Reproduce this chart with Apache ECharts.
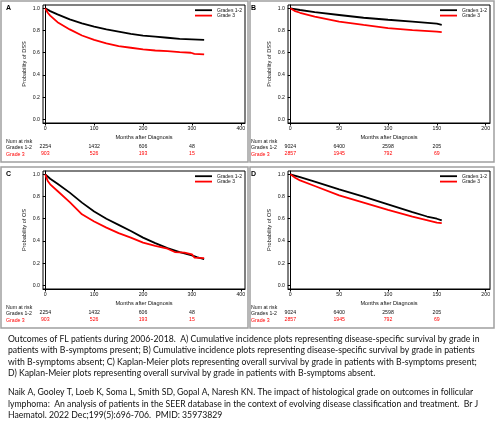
<!DOCTYPE html>
<html><head><meta charset="utf-8">
<script src="https://cdn.jsdelivr.net/npm/echarts@6/dist/echarts.min.js"></script>
<style>html,body{margin:0;padding:0;background:#fff}#c{width:500px;height:424px}</style>
</head><body><div id="c"></div>
<script>
// ---------------- data ----------------
const seriesNames = ['Grades 1-2', 'Grade 3'];
const yTicks = [0, 0.2, 0.4, 0.6, 0.8, 1.0];
const xTicksLong = [0, 100, 200, 300, 400];
const xTicksShort = [0, 50, 100, 150, 200];

// A: DSS, B-symptoms present
const dssPresentG12 = [[0,1.0],[10,0.975],[25,0.945],[50,0.90],[75,0.865],[100,0.835],[125,0.81],[150,0.79],[175,0.77],[200,0.755],[225,0.745],[250,0.735],[275,0.725],[300,0.72],[325,0.715]];
const dssPresentG3 = [[0,1.0],[5,0.96],[10,0.935],[25,0.875],[50,0.81],[75,0.755],[100,0.715],[125,0.685],[150,0.66],[175,0.645],[200,0.63],[225,0.62],[250,0.615],[275,0.605],[298,0.60],[305,0.59],[325,0.585]];
// B: DSS, B-symptoms absent
const dssAbsentG12 = [[0,1.0],[10,0.985],[25,0.965],[50,0.94],[75,0.915],[100,0.897],[125,0.88],[150,0.862],[155,0.852]];
const dssAbsentG3 = [[0,1.0],[5,0.975],[10,0.96],[25,0.925],[50,0.88],[75,0.85],[100,0.822],[125,0.803],[150,0.79],[155,0.786]];
// C: OS, B-symptoms present
const osPresentG12 = [[0,1.0],[10,0.96],[25,0.915],[50,0.835],[75,0.745],[100,0.665],[125,0.60],[150,0.545],[175,0.49],[200,0.43],[225,0.38],[250,0.335],[275,0.30],[300,0.27],[310,0.255],[325,0.235]];
const osPresentG3 = [[0,1.0],[5,0.94],[10,0.91],[25,0.85],[50,0.75],[75,0.64],[100,0.575],[125,0.52],[150,0.47],[175,0.43],[200,0.385],[225,0.355],[250,0.33],[265,0.30],[285,0.295],[300,0.28],[305,0.25],[325,0.245]];
// D: OS, B-symptoms absent
const osAbsentG12 = [[0,1.0],[10,0.975],[25,0.935],[50,0.865],[75,0.80],[100,0.73],[125,0.66],[140,0.62],[150,0.60],[155,0.585]];
const osAbsentG3 = [[0,1.0],[5,0.97],[10,0.945],[25,0.895],[50,0.81],[75,0.745],[100,0.68],[125,0.62],[150,0.565],[155,0.56]];

// numbers at risk
const riskTimesLong = [0, 100, 200, 300];
const riskTimesShort = [0, 50, 100, 150];
const riskPresentG12 = [2254, 1432, 606, 48];
const riskPresentG3 = [903, 526, 193, 15];
const riskAbsentG12 = [9024, 6400, 2598, 205];
const riskAbsentG3 = [2857, 1945, 792, 69];

const captionLines = [
  'Outcomes of FL patients during 2006-2018.  A) Cumulative incidence plots representing disease-specific survival by grade in',
  'patients with B-symptoms present; B) Cumulative incidence plots representing disease-specific survival by grade in patients',
  'with B-symptoms absent; C) Kaplan-Meier plots representing overall survival by grade in patients with B-symptoms present;',
  'D) Kaplan-Meier plots representing overall survival by grade in patients with B-symptoms absent.',
  '',
  'Naik A, Gooley T, Loeb K, Soma L, Smith SD, Gopal A, Naresh KN. The impact of histological grade on outcomes in follicular',
  'lymphoma:  An analysis of patients in the SEER database in the context of evolving disease classification and treatment.  Br J',
  'Haematol. 2022 Dec;199(5):696-706.  PMID: 35973829'
];

// ---------------- layout ----------------
const FONT = '"Liberation Sans", Arial, sans-serif';
const CAPFONT = 'Lato, "Open Sans", sans-serif';
const panels = [
  {letter:'A', ox:0,   oy:0,   xMin:-4.7, xMax:408.6, xTicks:xTicksLong,  yName:'Probability of DSS', g12:dssPresentG12, g3:dssPresentG3, rt:riskTimesLong,  r12:riskPresentG12, r3:riskPresentG3},
  {letter:'B', ox:245, oy:0,   xMin:-2.35,xMax:204.4, xTicks:xTicksShort, yName:'Probability of DSS', g12:dssAbsentG12,  g3:dssAbsentG3,  rt:riskTimesShort, r12:riskAbsentG12,  r3:riskAbsentG3},
  {letter:'C', ox:0,   oy:166, xMin:-4.7, xMax:408.6, xTicks:xTicksLong,  yName:'Probability of OS',  g12:osPresentG12,  g3:osPresentG3,  rt:riskTimesLong,  r12:riskPresentG12, r3:riskPresentG3},
  {letter:'D', ox:245, oy:166, xMin:-2.35,xMax:204.4, xTicks:xTicksShort, yName:'Probability of OS',  g12:osAbsentG12,   g3:osAbsentG3,   rt:riskTimesShort, r12:riskAbsentG12,  r3:riskAbsentG3}
];

const grid = [], xAxis = [], yAxis = [], series = [], legend = [], graphic = [];
const fs = 5.2;
panels.forEach((p, i) => {
  grid.push({left: 43 + p.ox, top: 5 + p.oy, width: 202, height: 118, show: true, borderColor: '#000', borderWidth: 1, backgroundColor: 'transparent'});
  // main x axis
  xAxis.push({
    type: 'value', gridIndex: i, min: p.xMin, max: p.xMax, position: 'bottom',
    axisLine: {onZero: false, lineStyle: {color: '#000', width: 1}},
    axisTick: {customValues: p.xTicks, length: 2.5, lineStyle: {color: '#000'}},
    axisLabel: {customValues: p.xTicks, fontSize: fs, color: '#111', fontFamily: FONT, margin: 3},
    splitLine: {show: false},
    name: 'Months after Diagnosis', nameLocation: 'middle', nameGap: 11,
    nameTextStyle: {fontSize: 5.6, color: '#111', fontFamily: FONT}
  });
  // at-risk rows as extra axes sharing the grid scale
  [[p.r12, '#111', 21], [p.r3, '#ff0000', 27.6]].forEach(([arr, col, off]) => {
    xAxis.push({
      type: 'value', gridIndex: i, min: p.xMin, max: p.xMax, position: 'bottom', offset: off,
      axisLine: {show: false}, axisTick: {show: false}, splitLine: {show: false},
      axisLabel: {customValues: p.rt, fontSize: fs, color: col, fontFamily: FONT, margin: 0,
        formatter: v => String(arr[p.rt.indexOf(v)])}
    });
  });
  yAxis.push({
    type: 'value', gridIndex: i, min: -0.033, max: 1.03,
    axisLine: {show: true, lineStyle: {color: '#000', width: 1}},
    axisTick: {customValues: yTicks, length: 2.5, lineStyle: {color: '#000'}},
    axisLabel: {customValues: yTicks, fontSize: fs, color: '#111', fontFamily: FONT, margin: 3, formatter: v => v.toFixed(1)},
    splitLine: {show: false},
    name: p.yName, nameLocation: 'middle', nameGap: 16, nameRotate: 90,
    nameTextStyle: {fontSize: 5.6, color: '#111', fontFamily: FONT}
  });
  const xi = i * 3;
  [[p.g12, '#000000', seriesNames[0]], [p.g3, '#ff0000', seriesNames[1]]].forEach(([d, col, nm]) => {
    series.push({type: 'line', name: nm, xAxisIndex: xi, yAxisIndex: i, data: d, showSymbol: false, symbol: 'none',
      lineStyle: {color: col, width: 1.8}, itemStyle: {color: col}, animation: false, silent: true});
  });
  legend.push({left: 195 + p.ox, top: 7.5 + p.oy, padding: 0, orient: 'vertical', icon: 'rect', itemWidth: 17, itemHeight: 1.8, itemGap: 0,
    selectedMode: false, data: seriesNames, textStyle: {fontSize: 5, lineHeight: 5.4, color: '#111', fontFamily: FONT}});
  // panel frame
  graphic.push({type: 'rect', shape: {x: 1 + (p.ox ? 249 : 0), y: 1 + p.oy, width: p.ox ? 244 : 247, height: 161}, style: {fill: 'none', stroke: '#a0a0a0', lineWidth: 1.5}, silent: true});
  graphic.push({type: 'text', x: 6 + p.ox, y: 8 + p.oy, style: {text: p.letter, font: 'bold 7px ' + FONT, fill: '#000', verticalAlign: 'middle'}});
  [['Num at risk', '#111', 141.7], ['Grades 1-2', '#111', 147.7], ['Grade 3', '#ff0000', 154.3]].forEach(([t, c, y]) => {
    graphic.push({type: 'text', x: 6 + p.ox, y: y + p.oy, style: {text: t, font: fs + 'px ' + FONT, fill: c, verticalAlign: 'middle'}});
  });
});

// caption
const ctx = document.createElement('canvas').getContext('2d');
ctx.font = '100px ' + CAPFONT;
const capSize = 100 * 472 / ctx.measureText(captionLines[0]).width;
const capY = [339, 350.7, 362, 373.5, 0, 392, 403.8, 415.5];
captionLines.forEach((t, k) => {
  if (!t) return;
  graphic.push({type: 'text', x: 8, y: capY[k], style: {text: t, font: capSize.toFixed(2) + 'px ' + CAPFONT, fill: '#111', verticalAlign: 'middle'}});
});

const chart = echarts.init(document.getElementById('c'), null, {renderer: 'canvas'});
chart.setOption({animation: false, grid, xAxis, yAxis, series, legend, graphic});
</script></body></html>
